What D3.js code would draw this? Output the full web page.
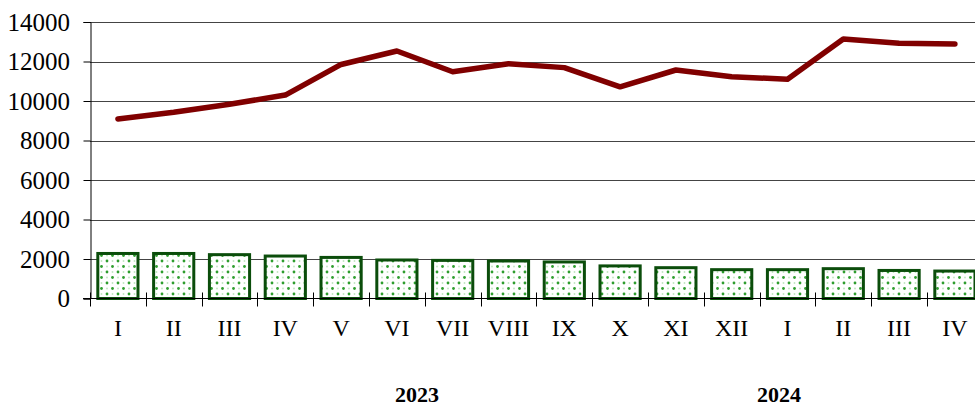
<!DOCTYPE html>
<html><head><meta charset="utf-8">
<script src="https://cdn.jsdelivr.net/npm/d3@7"></script>
<style>body{margin:0;background:#fff}svg{display:block}text{font-family:'Liberation Serif','Times New Roman',serif}</style>
</head><body>
<script>
const categories = ["I","II","III","IV","V","VI","VII","VIII","IX","X","XI","XII","I","II","III","IV"];
const barValues = [2280,2280,2220,2150,2080,1950,1930,1900,1850,1650,1560,1460,1460,1510,1420,1390];
const lineValues = [9090,9430,9840,10300,11850,12530,11480,11890,11690,10720,11570,11230,11100,13140,12920,12890];
const yTicks = [0,2000,4000,6000,8000,10000,12000,14000];
const years = ["2023","2024"];

const W = 975, H = 407;
const FONT = "'Liberation Serif', 'Times New Roman', serif";
const svg = d3.select("body").append("svg").attr("width", W).attr("height", H);
const x = d3.scaleBand().domain(d3.range(categories.length)).range([90, 90 + 16*55.8]).paddingInner(0.28).paddingOuter(0.14);
const y = d3.scaleLinear().domain([0,14000]).range([298.5, 22]);

const defs = svg.append("defs");
const pat = defs.append("pattern").attr("id","dots").attr("patternUnits","userSpaceOnUse")
  .attr("width",11).attr("height",11);
pat.append("rect").attr("width",11).attr("height",11).attr("fill","#fff");
[[2.5,2.5],[8,8]].forEach(([cx,cy]) => pat.append("circle").attr("cx",cx).attr("cy",cy).attr("r",1.4).attr("fill","#2e9e2e"));
[[8,2.5],[2.5,8]].forEach(([cx,cy]) => pat.append("circle").attr("cx",cx).attr("cy",cy).attr("r",0.9).attr("fill","#bfe6bf"));

// gridlines
svg.append("g").selectAll("line").data(yTicks.filter(d=>d>0)).join("line")
  .attr("x1",90).attr("x2",W).attr("y1",d=>Math.round(y(d))+0.5).attr("y2",d=>Math.round(y(d))+0.5)
  .attr("stroke","#444").attr("stroke-width",1.2);

// y axis
const yAxis = d3.axisLeft(y).tickValues(yTicks).tickSize(7).tickPadding(13.5).tickFormat(d3.format("d"));
const gy = svg.append("g").attr("transform","translate(90.5,0)").call(yAxis)
  .attr("font-family", FONT).attr("font-size", 25);
gy.select(".domain").attr("stroke","#000");
gy.selectAll(".tick line").attr("stroke","#000");
gy.selectAll("text").style("font-family",FONT).style("font-size","25px").attr("fill","#000");

// bars
svg.append("g").selectAll("rect").data(barValues).join("rect")
  .attr("x",(d,i)=>x(i)).attr("width",x.bandwidth())
  .attr("y",d=>y(d)).attr("height",d=>y(0)-y(d))
  .attr("fill","url(#dots)").attr("stroke","#0b4d0b").attr("stroke-width",3);

// x axis baseline
svg.append("line").attr("x1",83).attr("x2",W).attr("y1",y(0)).attr("y2",y(0)).attr("stroke","#000").attr("stroke-width",1.2);
const step = x.step();
svg.append("g").selectAll("line").data(d3.range(categories.length+1)).join("line")
  .attr("x1",i=>Math.round(x(0)-x.paddingOuter()*step + i*step)+0.5)
  .attr("x2",i=>Math.round(x(0)-x.paddingOuter()*step + i*step)+0.5)
  .attr("y1",y(0)-6).attr("y2",y(0)+8).attr("stroke","#000");
svg.append("g").selectAll("text").data(categories).join("text")
  .attr("x",(d,i)=>x(i)+x.bandwidth()/2).attr("y",336)
  .attr("text-anchor","middle").style("font-family",FONT).style("font-size","24px")
  .text(d=>d);

// line
svg.append("path").datum(lineValues)
  .attr("d", d3.line().x((d,i)=>x(i)+x.bandwidth()/2).y(d=>y(d)))
  .attr("fill","none").attr("stroke","#800000").attr("stroke-width",5.5)
  .attr("stroke-linecap","round").attr("stroke-linejoin","round");

// years
const yearX = {"2023": 417, "2024": 779};
svg.append("g").selectAll("text").data(years).join("text")
  .attr("x",d=>yearX[d]).attr("y",402).attr("text-anchor","middle")
  .style("font-family",FONT).style("font-weight","bold").style("font-size","22px")
  .text(d=>d);
</script>
</body></html>
